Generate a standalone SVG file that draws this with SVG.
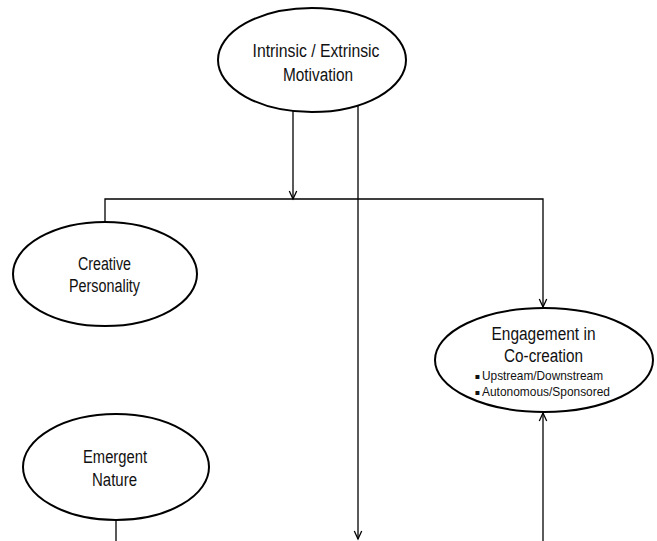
<svg xmlns="http://www.w3.org/2000/svg" width="657" height="541" viewBox="0 0 657 541">
<defs>
<marker id="arr" markerUnits="userSpaceOnUse" markerWidth="10" markerHeight="10" refX="8" refY="4" orient="auto" overflow="visible">
<path d="M0,0.3 L8,4 L0,7.7" fill="none" stroke="#000" stroke-width="1.3"/>
</marker>
</defs>
<style>
.node ellipse{fill:#fff;stroke:#000;stroke-width:2}
.lbl{font-family:"Liberation Sans",Arial,sans-serif;font-size:18px;fill:#111;text-anchor:middle}
.sub{font-family:"Liberation Sans",Arial,sans-serif;font-size:13px;fill:#111}
.bul{font-family:"DejaVu Sans",sans-serif;font-size:8px;fill:#111}
.conn line,.conn polyline{fill:none;stroke:#000;stroke-width:1.3}
</style>
<rect width="657" height="541" fill="#fff"/>
<g class="conn" id="connectors">
<line x1="293" y1="111" x2="293" y2="199" marker-end="url(#arr)"/>
<line x1="358" y1="105" x2="358" y2="539" marker-end="url(#arr)"/>
<polyline points="105,222 105,199 543,199 543,307" marker-end="url(#arr)"/>
<line x1="543" y1="541" x2="543" y2="413" marker-end="url(#arr)" style="stroke:#333;stroke-width:1.6"/>
<line x1="116" y1="520" x2="116" y2="541"/>
</g>
<g class="node" id="motivation">
<ellipse cx="312" cy="60" rx="94" ry="52"/>
<text class="lbl" x="316" y="57" textLength="127" lengthAdjust="spacingAndGlyphs">Intrinsic / Extrinsic</text>
<text class="lbl" x="318" y="81" textLength="70" lengthAdjust="spacingAndGlyphs">Motivation</text>
</g>
<g class="node" id="creative">
<ellipse cx="105" cy="274" rx="92" ry="52"/>
<text class="lbl" x="104.5" y="270" textLength="53" lengthAdjust="spacingAndGlyphs">Creative</text>
<text class="lbl" x="104.5" y="292" textLength="71" lengthAdjust="spacingAndGlyphs">Personality</text>
</g>
<g class="node" id="engagement">
<ellipse cx="544" cy="360" rx="109" ry="52"/>
<text class="lbl" x="543.5" y="340" textLength="104" lengthAdjust="spacingAndGlyphs">Engagement in</text>
<text class="lbl" x="543.5" y="362" textLength="79" lengthAdjust="spacingAndGlyphs">Co-creation</text>
<text class="bul" x="474.5" y="379">▪</text>
<text class="sub" x="482" y="380" textLength="121" lengthAdjust="spacingAndGlyphs">Upstream/Downstream</text>
<text class="bul" x="474.5" y="395">▪</text>
<text class="sub" x="482" y="396" textLength="128" lengthAdjust="spacingAndGlyphs">Autonomous/Sponsored</text>
</g>
<g class="node" id="emergent">
<ellipse cx="116" cy="467" rx="93" ry="53"/>
<text class="lbl" x="115" y="463" textLength="64" lengthAdjust="spacingAndGlyphs">Emergent</text>
<text class="lbl" x="114.5" y="486" textLength="45" lengthAdjust="spacingAndGlyphs">Nature</text>
</g>
</svg>
